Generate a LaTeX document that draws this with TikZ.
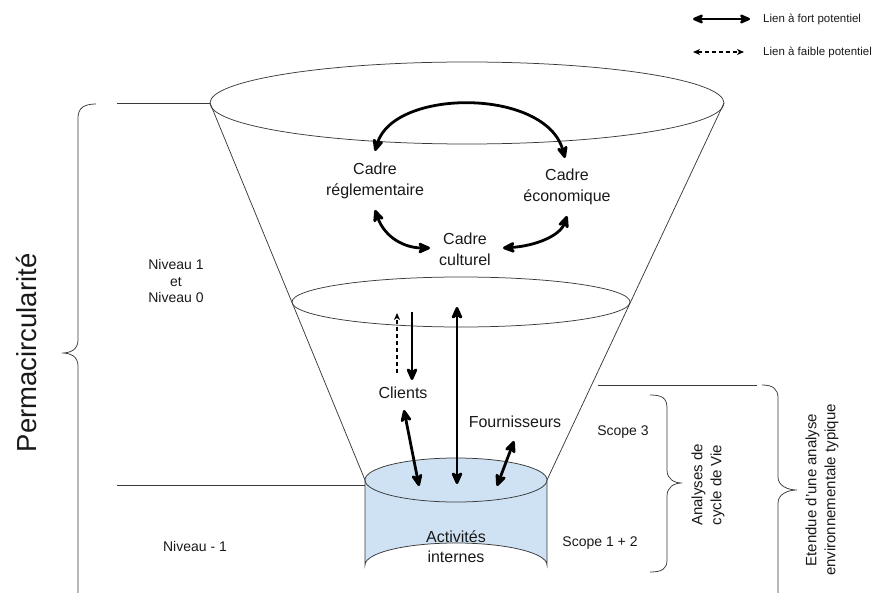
\documentclass[tikz,border=0pt]{standalone}
\usepackage{fontspec}
\setmainfont{Liberation Sans}
\usetikzlibrary{arrows.meta}
\definecolor{cylblue}{HTML}{CFE2F3}
\definecolor{inkgray}{HTML}{3A3A3A}
\begin{document}
\begin{tikzpicture}[x=1pt,y=-1pt,
  thinline/.style={draw=inkgray, line width=0.75pt},
  bigarrow/.style={line width=2.8pt, draw=black, {Stealth[length=16pt,width=14pt,inset=5pt,round]}-{Stealth[length=16pt,width=14pt,inset=5pt,round]}},
  dasharrow/.style={line width=1.2pt, draw=black, dash pattern=on 4pt off 3pt,
    -{Stealth[length=7pt,width=6pt,inset=2pt]}},
  lbl/.style={font=\fontsize{16}{21}\selectfont, align=center, text=black!90, inner sep=0pt},
  sidelbl/.style={font=\fontsize{14}{16.5}\selectfont, align=center, text=black!90, inner sep=0pt},
  legendlbl/.style={font=\fontsize{11.5}{14}\selectfont, anchor=west, text=black!90, inner sep=0pt},
  rotlbl/.style={font=\fontsize{15}{19}\selectfont, align=center, rotate=90, text=black!90, inner sep=0pt},
  brace/.style={draw=inkgray, line width=0.75pt}]
\useasboundingbox (0,0) rectangle (890,593);

% cone
\draw[thinline] (210,103) -- (365,480);
\draw[thinline] (724,103) -- (547,480);
\draw[thinline] (467,103) ellipse [x radius=257, y radius=41];
\draw[thinline] (461,302) ellipse [x radius=169, y radius=25];

% cylinder
\fill[cylblue] (365,480) -- (365,565) arc[start angle=180, end angle=360, x radius=91, y radius=22] -- (547,480) -- cycle;
\fill[cylblue] (456,480) ellipse [x radius=91, y radius=22];
\draw[thinline] (365,480) -- (365,565) arc[start angle=180, end angle=360, x radius=91, y radius=22] -- (547,480);
\draw[thinline] (456,480) ellipse [x radius=91, y radius=22];

% level lines
\draw[thinline] (117,103) -- (210,103);
\draw[thinline] (117,485) -- (365,485);
\draw[thinline] (598,385) -- (757,385);

% braces
\draw[brace] (96,104) .. controls (84,104) and (78,108) .. (78,118) -- (78,340)
  .. controls (78,350) and (70,353) .. (62,353) .. controls (70,353) and (78,356) .. (78,366) -- (78,593);
\draw[brace] (650,395) .. controls (662,395) and (667,398) .. (667,408) -- (667,470)
  .. controls (667,479) and (674,483) .. (682,483) .. controls (674,483) and (667,487) .. (667,496) -- (667,560)
  .. controls (667,569) and (662,572) .. (650,572);
\draw[brace] (762,385) .. controls (773,385) and (778,389) .. (778,398) -- (778,477)
  .. controls (778,486) and (788,490) .. (797,490) .. controls (788,490) and (778,494) .. (778,503) -- (778,593);

% texts
\node[lbl] (regl) at (375,181) {Cadre\\réglementaire};
\node[lbl] (eco) at (567,187) {Cadre\\économique};
\node[lbl] (cult) at (465,249) {Cadre\\culturel};
\node[lbl] (clients) at (403,393) {Clients};
\node[lbl] (fourn) at (515,422) {Fournisseurs};
\node[lbl, font=\fontsize{16}{20}\selectfont] (act) at (456,547) {Activités\\internes};
\node[sidelbl] (niv10) at (176,281) {Niveau 1\\et\\Niveau 0};
\node[sidelbl] (nivm1) at (195,546) {Niveau - 1};
\node[sidelbl] (sc3) at (623,432) {Scope 3};
\node[sidelbl] (sc12) at (600,543) {Scope 1 + 2};
\node[font=\fontsize{27.5}{30}\selectfont, rotate=90, inner sep=0pt, text=black!90] (perma) at (27,353) {Permacircularité};
\node[rotlbl] (acv) at (708,485) {Analyses de\\cycle de Vie};
\node[rotlbl] (etendue) at (822,490) {Etendue d'une analyse\\environnementale typique};

% legend
\coordinate (lga) at (693,19);
\coordinate (lgb) at (750,19);
\coordinate (lgc) at (693,52);
\coordinate (lgd) at (744,52);
\draw[line width=2.6pt, {Stealth[length=14pt,width=12pt,inset=4.5pt,round]}-{Stealth[length=14pt,width=12pt,inset=4.5pt,round]}] (lga) -- (lgb);
\draw[dasharrow, {Stealth[length=7pt,width=6pt,inset=2pt]}-{Stealth[length=7pt,width=6pt,inset=2pt]}] (lgc) -- (lgd);
\node[legendlbl] (lg1) at (763,19) {Lien à fort potentiel};
\node[legendlbl] (lg2) at (763,52) {Lien à faible potentiel};

% arrows among frames
\coordinate (a1) at (375,151);
\coordinate (a2) at (565,158);
\draw[bigarrow] (a1) .. controls (394,88) and (546,88) .. (a2);
\coordinate (b1) at (375,210);
\coordinate (b2) at (430,248);
\draw[bigarrow] (b1) .. controls (385,238) and (405,248) .. (b2);
\coordinate (c1) at (503,248);
\coordinate (c2) at (567,216);
\draw[bigarrow] (c1) .. controls (535,246) and (560,236) .. (c2);

% arrows to the cylinder
\coordinate (d1) at (397,373);
\coordinate (d2) at (397,313);
\draw[dasharrow] (d1) -- (d2);
\coordinate (e1) at (412,312);
\coordinate (e2) at (412,380);
\draw[line width=2.8pt, -{Stealth[length=16pt,width=14pt,inset=5pt,round]}] (e1) -- (e2);
\coordinate (f1) at (457,307);
\coordinate (f2) at (457,484);
\draw[bigarrow] (f1) -- (f2);
\coordinate (g1) at (404,410);
\coordinate (g2) at (419,486);
\draw[bigarrow] (g1) -- (g2);
\coordinate (h1) at (514,441);
\coordinate (h2) at (497,486);
\draw[bigarrow] (h1) -- (h2);
\end{tikzpicture}
\end{document}
